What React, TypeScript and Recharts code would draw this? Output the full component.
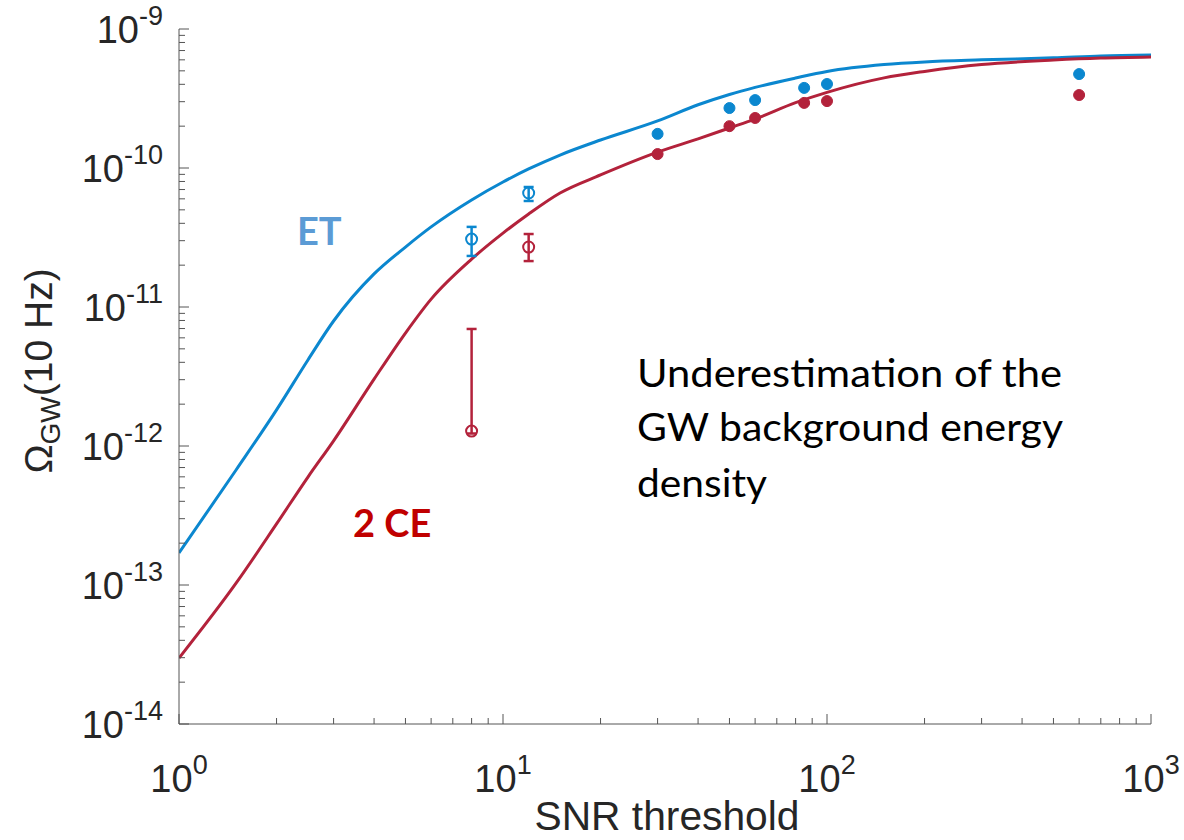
import { ComposedChart, Line, Scatter, ErrorBar, XAxis, YAxis } from 'recharts';

// SNR grid for the two model curves
const snrGrid = [1, 1.5, 2, 2.5, 3, 4, 5, 6, 8, 10, 12, 15, 20, 30, 40, 50, 60, 80, 100, 150, 200, 300, 500, 700, 1000];
const etCurve = [
  1.7e-13, 6.72e-13, 1.82e-12, 4.16e-12, 7.93e-12, 1.73e-11, 2.7e-11, 3.77e-11, 5.89e-11, 7.93e-11, 9.84e-11,
  1.24e-10, 1.59e-10, 2.18e-10, 2.85e-10, 3.38e-10, 3.8e-10, 4.44e-10, 4.95e-10, 5.55e-10, 5.8e-10, 6.0e-10,
  6.2e-10, 6.4e-10, 6.5e-10,
];
const ceCurve = [
  2.98e-14, 1.03e-13, 2.75e-13, 5.98e-13, 1.09e-12, 3.03e-12, 6.5e-12, 1.14e-11, 2.21e-11, 3.4e-11, 4.67e-11,
  6.61e-11, 8.91e-11, 1.3e-10, 1.62e-10, 1.94e-10, 2.25e-10, 2.95e-10, 3.5e-10, 4.45e-10, 4.95e-10, 5.55e-10,
  5.98e-10, 6.18e-10, 6.29e-10,
];

// measured points (open markers, visible error bars)
const lowSnr = [8, 12];
const etLow = [3.08e-11, 6.61e-11];
const etLowErr = [[0.75e-11, 0.69e-11], [0.82e-11, 0.69e-11]];
const ceLow = [1.28e-12, 2.7e-11];
const ceLowErr = [[0.05e-12, 5.67e-12], [0.56e-11, 0.65e-11]];

// measured points (filled markers, tiny error bars)
const highSnr = [30, 50, 60, 85, 100, 600];
const etHigh = [1.76e-10, 2.7e-10, 3.08e-10, 3.77e-10, 4.02e-10, 4.74e-10];
const etHighErr = [0.06e-10, 0.08e-10, 0.09e-10, 0.1e-10, 0.1e-10, 0.12e-10];
const ceHigh = [1.26e-10, 2.0e-10, 2.29e-10, 2.94e-10, 3.03e-10, 3.35e-10];
const ceHighErr = [0.05e-10, 0.06e-10, 0.07e-10, 0.08e-10, 0.08e-10, 0.09e-10];

const xTicks = [1, 2, 3, 4, 5, 6, 7, 8, 9, 10, 20, 30, 40, 50, 60, 70, 80, 90, 100, 200, 300, 400, 500, 600, 700, 800, 900, 1000];
const yTicks = [
  1e-14, 2e-14, 3e-14, 4e-14, 5e-14, 6e-14, 7e-14, 8e-14, 9e-14,
  1e-13, 2e-13, 3e-13, 4e-13, 5e-13, 6e-13, 7e-13, 8e-13, 9e-13,
  1e-12, 2e-12, 3e-12, 4e-12, 5e-12, 6e-12, 7e-12, 8e-12, 9e-12,
  1e-11, 2e-11, 3e-11, 4e-11, 5e-11, 6e-11, 7e-11, 8e-11, 9e-11,
  1e-10, 2e-10, 3e-10, 4e-10, 5e-10, 6e-10, 7e-10, 8e-10, 9e-10,
  1e-9,
];

const BLUE = '#0b87cf';
const RED = '#b3223b';
const AXIS = '#555';
const TXT = '#262626';
const FONT = '"Liberation Sans", Arial, sans-serif';

const etLine = snrGrid.map((x, i) => ({ x, y: etCurve[i] }));
const ceLine = snrGrid.map((x, i) => ({ x, y: ceCurve[i] }));
const etLowPts = lowSnr.map((x, i) => ({ x, y: etLow[i], err: etLowErr[i] }));
const ceLowPts = lowSnr.map((x, i) => ({ x, y: ceLow[i], err: ceLowErr[i] }));
const etHighPts = highSnr.map((x, i) => ({ x, y: etHigh[i], err: etHighErr[i] }));
const ceHighPts = highSnr.map((x, i) => ({ x, y: ceHigh[i], err: ceHighErr[i] }));

const exponent = (v: number) => Math.round(Math.log10(v));
const isMajor = (v: number) => Math.abs(Math.log10(v) - exponent(v)) < 1e-6;

const BottomTick = ({ x, y, payload }: any) => {
  const v = payload.value;
  const major = isMajor(v);
  return (
    <g>
      <line x1={x} y1={y} x2={x} y2={y - (major ? 10 : 6)} stroke={AXIS} />
      {major && (
        <text x={x} y={y + 68} textAnchor="middle" fill={TXT} fontFamily={FONT} fontSize={38}>
          <tspan>10</tspan>
          <tspan dy={-18} fontSize={27}>{exponent(v)}</tspan>
        </text>
      )}
    </g>
  );
};

const TopTick = ({ x, y, payload }: any) => (
  <line x1={x} y1={y} x2={x} y2={y + (isMajor(payload.value) ? 10 : 6)} stroke={AXIS} />
);

const LeftTick = ({ x, y, payload }: any) => {
  const v = payload.value;
  const major = isMajor(v);
  return (
    <g>
      <line x1={x} y1={y} x2={x + (major ? 10 : 6)} y2={y} stroke={AXIS} />
      {major && (
        <text x={x - 16} y={y + 14} textAnchor="end" fill={TXT} fontFamily={FONT} fontSize={38}>
          <tspan>10</tspan>
          <tspan dy={-18} fontSize={27}>{exponent(v)}</tspan>
        </text>
      )}
    </g>
  );
};

const RightTick = ({ x, y, payload }: any) => (
  <line x1={x} y1={y} x2={x - (isMajor(payload.value) ? 10 : 6)} y2={y} stroke={AXIS} />
);

const openDot = (color: string) => (p: any) => (
  <circle cx={p.cx} cy={p.cy} r={5.5} fill="none" stroke={color} strokeWidth={2} />
);
const filledDot = (color: string) => (p: any) => (
  <circle cx={p.cx} cy={p.cy} r={5.5} fill={color} stroke={color} strokeWidth={1} />
);

export default function App() {
  return (
    <div style={{ position: 'absolute', left: 0, top: 0, width: 1184, height: 840, background: '#fff' }}>
      <ComposedChart width={1184} height={840} margin={{ top: 29, right: 33, bottom: 56, left: 79 }}>
        <XAxis
          dataKey="x"
          type="number"
          scale="log"
          domain={[1, 1000]}
          ticks={xTicks}
          interval={0}
          allowDataOverflow
          height={60}
          tickSize={0}
          tickMargin={0}
          tickLine={false}
          tick={<BottomTick />}
          axisLine={{ stroke: AXIS }}
        />
        <XAxis
          xAxisId="top"
          orientation="top"
          dataKey="x"
          type="number"
          scale="log"
          domain={[1, 1000]}
          ticks={xTicks}
          interval={0}
          allowDataOverflow
          height={0}
          tickSize={0}
          tickMargin={0}
          tickLine={false}
          tick={<TopTick />}
          axisLine={{ stroke: AXIS }}
        />
        <YAxis
          dataKey="y"
          type="number"
          scale="log"
          domain={[1e-14, 1e-9]}
          ticks={yTicks}
          interval={0}
          allowDataOverflow
          width={100}
          tickSize={0}
          tickMargin={0}
          tickLine={false}
          tick={<LeftTick />}
          axisLine={{ stroke: AXIS }}
        />
        <YAxis
          yAxisId="right"
          orientation="right"
          dataKey="y"
          type="number"
          scale="log"
          domain={[1e-14, 1e-9]}
          ticks={yTicks}
          interval={0}
          allowDataOverflow
          width={0}
          tickSize={0}
          tickMargin={0}
          tickLine={false}
          tick={<RightTick />}
          axisLine={{ stroke: AXIS }}
        />
        <Line data={etLine} dataKey="y" type="monotone" stroke={BLUE} strokeWidth={3} dot={false} isAnimationActive={false} />
        <Line data={ceLine} dataKey="y" type="monotone" stroke={RED} strokeWidth={3} dot={false} isAnimationActive={false} />
        <Scatter data={etLowPts} dataKey="y" fill={BLUE} shape={openDot(BLUE)} isAnimationActive={false}>
          <ErrorBar dataKey="err" direction="y" width={5} stroke={BLUE} strokeWidth={2.5} />
        </Scatter>
        <Scatter data={ceLowPts} dataKey="y" fill={RED} shape={openDot(RED)} isAnimationActive={false}>
          <ErrorBar dataKey="err" direction="y" width={5} stroke={RED} strokeWidth={2.5} />
        </Scatter>
        <Scatter data={etHighPts} dataKey="y" fill={BLUE} shape={filledDot(BLUE)} isAnimationActive={false}>
          <ErrorBar dataKey="err" direction="y" width={4} stroke={BLUE} strokeWidth={1.5} />
        </Scatter>
        <Scatter data={ceHighPts} dataKey="y" fill={RED} shape={filledDot(RED)} isAnimationActive={false}>
          <ErrorBar dataKey="err" direction="y" width={4} stroke={RED} strokeWidth={1.5} />
        </Scatter>
      </ComposedChart>
      <svg
        width={1184}
        height={840}
        style={{ position: 'absolute', left: 0, top: 0, pointerEvents: 'none' }}
      >
        <text x={667} y={830} textAnchor="middle" fill={TXT} fontFamily={FONT} fontSize={40} textLength={265} lengthAdjust="spacingAndGlyphs">
          SNR threshold
        </text>
        <text
          transform="translate(52,371) rotate(-90)"
          textAnchor="middle"
          fill={TXT}
          fontFamily={FONT}
          fontSize={39}
        >
          <tspan>Ω</tspan>
          <tspan fontSize={28} dy={8}>GW</tspan>
          <tspan dy={-8}>(10 Hz)</tspan>
        </text>
        <text x={297} y={245} fill="#5b9bd5" fontFamily="Lato, 'Open Sans', sans-serif" fontWeight="bold" fontSize={38}>
          ET
        </text>
        <text x={353} y={537} fill="#c00000" fontFamily="Lato, 'Open Sans', sans-serif" fontWeight="bold" fontSize={38}>
          2 CE
        </text>
        <g fill="#000" fontFamily="Lato, 'Open Sans', sans-serif" fontSize={38}>
          <text x={637} y={387} textLength={425} lengthAdjust="spacingAndGlyphs">Underestimation of the</text>
          <text x={637} y={441} textLength={426} lengthAdjust="spacingAndGlyphs">GW background energy</text>
          <text x={637} y={497} textLength={130} lengthAdjust="spacingAndGlyphs">density</text>
        </g>
      </svg>
    </div>
  );
}
